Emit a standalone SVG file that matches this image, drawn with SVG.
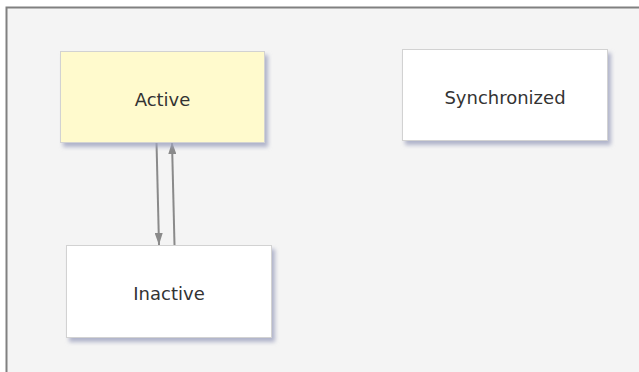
<svg xmlns="http://www.w3.org/2000/svg" width="639" height="372" viewBox="0 0 639 372">
  <style>
    .state rect { stroke: #d2d2d2; stroke-width: 1; filter: url(#shadow); }
    .state text { font-family: "DejaVu Sans", Verdana, sans-serif; font-size: 18px; fill: #333333; text-anchor: middle; }
    .active rect { fill: #fffacd; }
    .plain rect { fill: #ffffff; }
    .edge { stroke: #8a8a8a; stroke-width: 2; fill: none; marker-end: url(#head); }
  </style>
  <defs>
    <filter id="shadow" x="-10%" y="-10%" width="125%" height="135%">
      <feGaussianBlur in="SourceAlpha" stdDeviation="2"/>
      <feOffset dx="3" dy="4" result="b"/>
      <feFlood flood-color="#9ea3bf" flood-opacity="0.8"/>
      <feComposite in2="b" operator="in"/>
      <feMerge>
        <feMergeNode/>
        <feMergeNode in="SourceGraphic"/>
      </feMerge>
    </filter>
    <marker id="head" viewBox="0 0 12 8" refX="12" refY="4" markerWidth="12" markerHeight="8" markerUnits="userSpaceOnUse" orient="auto">
      <path d="M0,0 L12,4 L0,8 z" fill="#8a8a8a"/>
    </marker>
  </defs>

  <!-- canvas -->
  <rect x="0" y="0" width="639" height="372" fill="#ffffff"/>
  <rect x="6.5" y="7.5" width="640" height="372" fill="#f4f4f4"/>
  <path d="M6.5,372 V7.5 H639" fill="none" stroke="#808080" stroke-width="2"/>

  <!-- transitions -->
  <g id="connectors">
    <line class="edge" x1="156.5" y1="142" x2="159" y2="245"/>
    <line class="edge" x1="174.5" y1="245" x2="172" y2="142"/>
  </g>

  <g id="node-active" class="state active">
    <rect x="60.5" y="51.5" width="204" height="91"/>
    <text x="162.5" y="106">Active</text>
  </g>

  <g id="node-synchronized" class="state plain">
    <rect x="402.5" y="49.5" width="205" height="91"/>
    <text x="505" y="104">Synchronized</text>
  </g>

  <g id="node-inactive" class="state plain">
    <rect x="66.5" y="245.5" width="205" height="92"/>
    <text x="169" y="300">Inactive</text>
  </g>
</svg>
